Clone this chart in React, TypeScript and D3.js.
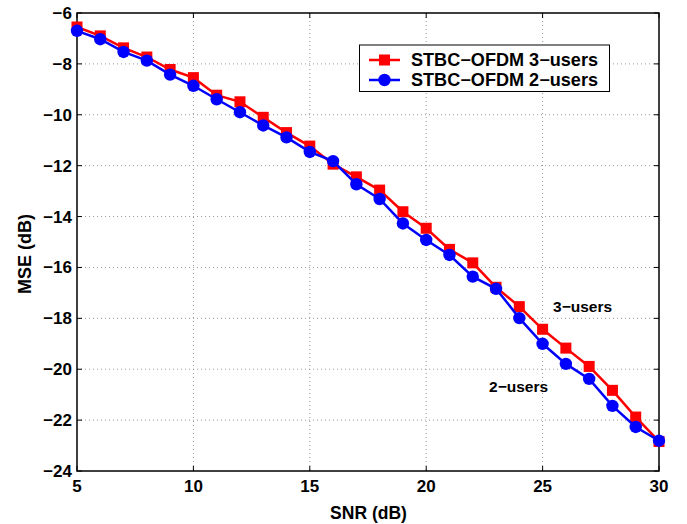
import React from 'react';
import * as d3 from 'd3';

const snr = [5, 6, 7, 8, 9, 10, 11, 12, 13, 14, 15, 16, 17, 18, 19, 20, 21, 22, 23, 24, 25, 26, 27, 28, 29, 30];
const mse3 = [-6.55, -6.9, -7.37, -7.73, -8.22, -8.54, -9.23, -9.49, -10.1, -10.7, -11.23, -11.94, -12.44, -12.96, -13.81, -14.46, -15.29, -15.82, -16.78, -17.54, -18.43, -19.17, -19.89, -20.83, -21.88, -22.84];
const mse2 = [-6.7, -7.03, -7.53, -7.87, -8.42, -8.86, -9.39, -9.9, -10.42, -10.89, -11.46, -11.82, -12.73, -13.31, -14.27, -14.92, -15.51, -16.36, -16.84, -17.99, -19.0, -19.79, -20.38, -21.44, -22.27, -22.81];
const xTicks = [5, 10, 15, 20, 25, 30];
const yTicks = [-24, -22, -20, -18, -16, -14, -12, -10, -8, -6];

const W = 687, H = 524;
const left = 77, right = 659, top = 13, bottom = 471;
const font = 'Liberation Sans, Arial, Helvetica, sans-serif';

const fmt = (v: number) => (v < 0 ? '\u2212' + Math.abs(v) : String(v));

export default function App() {
  const x = d3.scaleLinear().domain([5, 30]).range([left, right]);
  const y = d3.scaleLinear().domain([-24, -6]).range([bottom, top]);
  const line = d3.line<number>().x((_, i) => x(snr[i])).y(d => y(d));

  const sq = 11, r = 6.2;

  return (
    <svg width={W} height={H} style={{ position: 'absolute', left: 0, top: 0, background: '#fff' }}
      fontFamily={font} fontWeight="bold">
      {/* grid */}
      {xTicks.slice(1, -1).map(t => (
        <line key={'gx' + t} x1={x(t)} x2={x(t)} y1={top} y2={bottom} stroke="#999" strokeWidth={1} strokeDasharray="1,3" />
      ))}
      {yTicks.slice(1, -1).map(t => (
        <line key={'gy' + t} x1={left} x2={right} y1={y(t)} y2={y(t)} stroke="#999" strokeWidth={1} strokeDasharray="1,3" />
      ))}
      {/* ticks */}
      {xTicks.map(t => (
        <g key={'tx' + t}>
          <line x1={x(t)} x2={x(t)} y1={bottom} y2={bottom - 5} stroke="#000" />
          <line x1={x(t)} x2={x(t)} y1={top} y2={top + 5} stroke="#000" />
          <text x={x(t)} y={492} textAnchor="middle" fontSize={17}>{fmt(t)}</text>
        </g>
      ))}
      {yTicks.map(t => (
        <g key={'ty' + t}>
          <line x1={left} x2={left + 5} y1={y(t)} y2={y(t)} stroke="#000" />
          <line x1={right} x2={right - 5} y1={y(t)} y2={y(t)} stroke="#000" />
          <text x={72} y={y(t) + 6} textAnchor="end" fontSize={17}>{fmt(t)}</text>
        </g>
      ))}
      <rect x={left} y={top} width={right - left} height={bottom - top} fill="none" stroke="#000" strokeWidth={1.5} />

      {/* series */}
      <path d={line(mse3) || ''} fill="none" stroke="#ff0000" strokeWidth={2.5} />
      {mse3.map((v, i) => (
        <rect key={'r' + i} x={x(snr[i]) - sq / 2} y={y(v) - sq / 2} width={sq} height={sq} fill="#ff0000" />
      ))}
      <path d={line(mse2) || ''} fill="none" stroke="#0000ff" strokeWidth={2.5} />
      {mse2.map((v, i) => (
        <circle key={'c' + i} cx={x(snr[i])} cy={y(v)} r={r} fill="#0000ff" />
      ))}

      {/* annotations */}
      <text x={553} y={312} fontSize={15.5}>3{'\u2212'}users</text>
      <text x={489} y={392} fontSize={15.5}>2{'\u2212'}users</text>

      {/* legend */}
      <rect x={359.5} y={45} width={250} height={46.5} fill="#fff" stroke="#000" strokeWidth={1} />
      <line x1={369} x2={400} y1={60} y2={60} stroke="#ff0000" strokeWidth={2.5} />
      <rect x={384.5 - sq / 2} y={60 - sq / 2} width={sq} height={sq} fill="#ff0000" />
      <text x={411} y={66} fontSize={17.5} textLength={187} lengthAdjust="spacingAndGlyphs">STBC{'\u2212'}OFDM 3{'\u2212'}users</text>
      <line x1={369} x2={400} y1={80} y2={80} stroke="#0000ff" strokeWidth={2.5} />
      <circle cx={384.5} cy={80} r={r} fill="#0000ff" />
      <text x={411} y={86} fontSize={17.5} textLength={187} lengthAdjust="spacingAndGlyphs">STBC{'\u2212'}OFDM 2{'\u2212'}users</text>

      {/* axis titles */}
      <text x={368.5} y={519} textAnchor="middle" fontSize={17.5}>SNR (dB)</text>
      <text transform="translate(31,254) rotate(-90)" textAnchor="middle" fontSize={18}>MSE (dB)</text>
    </svg>
  );
}
